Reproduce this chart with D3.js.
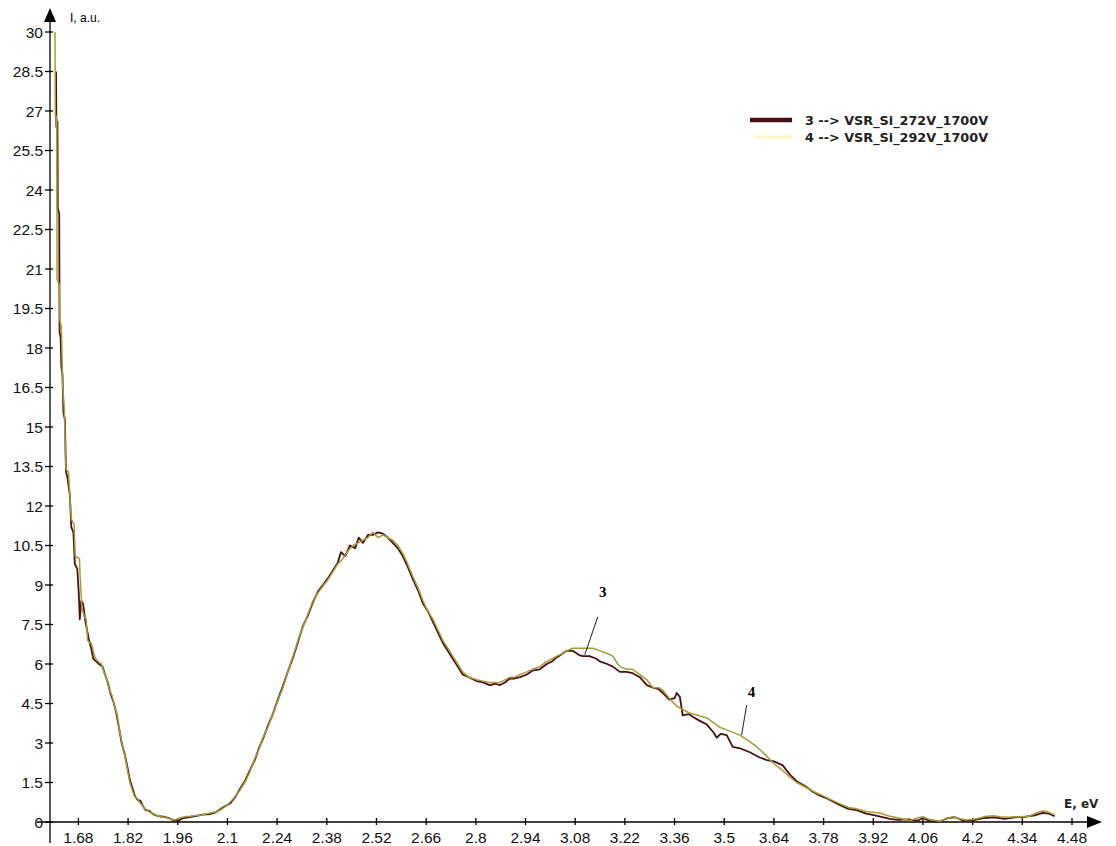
<!DOCTYPE html>
<html>
<head>
<meta charset="utf-8">
<script src="https://cdn.jsdelivr.net/npm/d3@7"></script>
<style>
  body { margin: 0; background: #fff; }
  text { font-family: "Liberation Sans", Arial, sans-serif; }
</style>
</head>
<body>
<div id="chart"></div>
<script>
// spectra: photon energy (eV) vs intensity (a.u.)
const e3 = [1.617,1.618,1.621,1.622,1.626,1.627,1.630,1.632,1.635,1.638,1.642,1.645,1.649,1.656,1.660,1.666,1.670,1.677,1.681,1.684,1.688,1.693,1.700,1.710,1.716,1.722,1.730,1.738,
  1.748,1.755,1.763,1.770,1.778,1.786,1.794,1.802,1.810,1.818,1.825,1.832,1.839,1.846,1.855,1.862,1.870,1.880,1.890,1.905,1.920,1.935,1.950,1.962,1.975,1.990,2.010,2.030,2.050,2.065,2.080,2.093,2.107,2.121,2.135,2.149,2.163,2.177,2.190,2.200,2.214,2.228,2.242,2.256,2.270,2.285,2.299,2.313,2.327,2.341,2.355,2.369,2.383,2.397,2.411,2.420,2.432,2.445,2.460,2.470,2.482,2.496,2.510,2.524,2.538,2.552,2.566,2.580,2.594,2.608,2.623,2.637,2.651,2.665,2.679,2.693,2.707,2.721,2.735,2.749,2.763,2.780,2.803,2.820,2.839,2.855,2.868,2.882,2.896,2.910,2.925,2.944,2.960,2.980,3.000,3.015,3.028,3.045,3.056,3.073,3.090,3.101,3.120,3.140,3.149,3.170,3.186,3.206,3.225,3.242,3.262,3.282,3.299,3.315,3.327,3.345,3.360,3.366,3.375,3.383,3.400,3.411,3.430,3.451,3.470,3.479,3.490,3.507,3.524,3.544,3.572,3.600,3.620,3.640,3.665,3.685,3.704,3.730,3.749,3.770,3.789,3.810,3.825,3.850,3.873,3.900,3.918,3.940,3.966,3.990,4.020,4.045,4.060,4.080,4.107,4.130,4.150,4.175,4.200,4.230,4.260,4.290,4.320,4.350,4.375,4.397,4.415,4.431];
const i3 = [28.5,26.4,26.6,23.3,23.1,18.6,18.4,17.3,17.0,15.5,15.3,13.3,13.1,12.4,11.2,11.0,9.8,9.6,8.7,7.7,8.4,8.3,7.6,6.9,6.6,6.2,6.1,6.0,
  5.9,5.6,5.3,4.9,4.6,4.2,3.6,3.0,2.6,2.1,1.6,1.3,1.0,0.85,0.8,0.6,0.45,0.42,0.3,0.22,0.2,0.15,0.05,0.05,0.15,0.18,0.22,0.28,0.3,0.36,0.48,0.6,0.7,0.92,1.25,1.55,1.95,2.35,2.85,3.15,3.65,4.1,4.65,5.15,5.7,6.25,6.85,7.45,7.85,8.35,8.75,9.0,9.25,9.55,9.85,10.25,10.1,10.5,10.4,10.8,10.6,10.9,10.9,11.0,10.95,10.8,10.6,10.4,10.1,9.7,9.2,8.8,8.3,8.0,7.6,7.2,6.8,6.5,6.2,5.9,5.6,5.5,5.35,5.3,5.2,5.25,5.2,5.3,5.45,5.45,5.5,5.6,5.75,5.8,6.0,6.1,6.25,6.4,6.5,6.5,6.35,6.3,6.3,6.2,6.1,6.0,5.9,5.7,5.7,5.65,5.5,5.2,5.1,5.05,4.9,4.65,4.7,4.9,4.75,4.05,4.1,4.0,3.85,3.7,3.4,3.2,3.35,3.3,2.85,2.8,2.65,2.45,2.35,2.3,2.15,1.8,1.55,1.35,1.15,1.0,0.9,0.75,0.65,0.5,0.45,0.32,0.27,0.2,0.12,0.08,0.1,0.05,0.15,0.03,0.02,0.15,0.18,0.05,0.06,0.15,0.18,0.12,0.18,0.2,0.25,0.35,0.32,0.22];

const e4 = [1.614,1.615,1.619,1.620,1.626,1.627,1.632,1.636,1.640,1.645,1.652,1.660,1.668,1.671,1.683,1.685,1.690,1.697,1.702,1.706,1.712,1.716,1.720,1.728,1.735,1.745,1.752,1.760,1.768,1.775,1.782,1.789,1.797,1.804,1.811,1.818,1.825,1.832,1.839,1.846,1.852,1.859,1.868,1.878,1.887,1.900,1.912,1.924,1.938,1.952,1.965,1.980,1.995,2.010,2.028,2.045,2.065,2.080,2.093,2.107,2.121,2.135,2.149,2.163,2.177,2.190,2.200,2.214,2.228,2.242,2.256,2.270,2.285,2.299,2.313,2.327,2.341,2.355,2.369,2.383,2.397,2.411,2.425,2.440,2.454,2.468,2.482,2.496,2.510,2.524,2.538,2.552,2.566,2.580,2.594,2.608,2.623,2.637,2.651,2.665,2.679,2.693,2.707,2.721,2.735,2.749,2.763,2.780,2.803,2.820,2.839,2.855,2.868,2.882,2.896,2.910,2.925,2.944,2.960,2.980,3.000,3.015,3.028,3.045,3.056,3.073,3.090,3.110,3.130,3.150,3.170,3.186,3.200,3.206,3.225,3.242,3.262,3.282,3.299,3.315,3.327,3.345,3.366,3.400,3.451,3.487,3.507,3.544,3.572,3.592,3.620,3.637,3.665,3.685,3.704,3.732,3.760,3.777,3.800,3.825,3.850,3.873,3.900,3.938,3.966,3.975,4.000,4.023,4.045,4.059,4.080,4.107,4.125,4.144,4.165,4.183,4.210,4.239,4.260,4.276,4.300,4.332,4.360,4.380,4.397,4.410,4.425,4.431];
const i4 = [30.0,26.8,26.8,20.6,20.4,19.1,18.8,16.5,15.8,13.4,13.3,11.5,11.3,10.1,10.0,9.3,8.1,7.8,7.7,6.9,6.8,6.8,6.6,6.2,6.1,6.0,5.7,5.4,5.0,4.8,4.4,4.1,3.4,2.9,2.5,2.0,1.5,1.2,0.95,0.9,0.75,0.65,0.5,0.4,0.33,0.25,0.2,0.18,0.12,0.08,0.15,0.2,0.22,0.25,0.27,0.32,0.38,0.45,0.57,0.75,0.95,1.2,1.5,1.9,2.4,2.8,3.2,3.6,4.1,4.6,5.1,5.7,6.3,6.9,7.4,7.9,8.4,8.7,8.95,9.2,9.5,9.8,10.0,10.3,10.5,10.6,10.7,10.8,11.0,10.8,10.9,10.8,10.7,10.5,10.2,9.8,9.3,8.9,8.4,8.0,7.7,7.3,6.9,6.6,6.3,6.0,5.7,5.5,5.4,5.35,5.3,5.3,5.3,5.4,5.5,5.5,5.6,5.7,5.8,5.9,6.1,6.2,6.3,6.4,6.5,6.6,6.6,6.6,6.6,6.5,6.4,6.3,6.0,5.9,5.8,5.8,5.6,5.4,5.1,5.1,5.0,4.7,4.4,4.15,3.95,3.6,3.5,3.3,3.05,2.85,2.5,2.25,1.95,1.7,1.5,1.3,1.1,1.0,0.85,0.7,0.55,0.5,0.4,0.34,0.22,0.2,0.12,0.06,0.15,0.2,0.1,0.03,0.12,0.2,0.12,0.08,0.12,0.22,0.24,0.2,0.18,0.2,0.22,0.35,0.42,0.4,0.3,0.28];

const xTicks = [1.68,1.82,1.96,2.1,2.24,2.38,2.52,2.66,2.8,2.94,3.08,3.22,3.36,3.5,3.64,3.78,3.92,4.06,4.2,4.34,4.48];
const yTicks = [0,1.5,3,4.5,6,7.5,9,10.5,12,13.5,15,16.5,18,19.5,21,22.5,24,25.5,27,28.5,30];

const legendLabels = ['3 -->  VSR_Si_272V_1700V', '4 -->  VSR_Si_292V_1700V'];
const curveTags = ['3', '4'];
const tagE = [3.107, 3.549];
const tagI = [6.35, 3.3];

const W = 1116, H = 846;
const COLORS = { s3: '#4e0f0f', s4: '#a49c3c', leg4: '#fbf6c4', axis: '#000' };
const BOLD_FONT = '"DejaVu Sans", Verdana, sans-serif';

const svg = d3.select('#chart').append('svg')
  .attr('width', W)
  .attr('height', H);

const x = d3.scaleLinear().domain([1.6, 4.48]).range([50, 1072]);
const y = d3.scaleLinear().domain([0, 30]).range([822, 32]);

// axes lines with arrows
svg.append('line')
  .attr('x1', x(1.6)).attr('x2', x(1.6))
  .attr('y1', 843).attr('y2', 18)
  .attr('stroke', COLORS.axis).attr('stroke-width', 1.3);
svg.append('path')
  .attr('d', `M${x(1.6)},8 L${x(1.6) - 6},22 L${x(1.6) + 6},22 Z`)
  .attr('fill', COLORS.axis);

svg.append('line')
  .attr('x1', 37).attr('x2', 1095)
  .attr('y1', y(0)).attr('y2', y(0))
  .attr('stroke', COLORS.axis).attr('stroke-width', 1.3);
svg.append('path')
  .attr('d', `M1102,${y(0)} L1087,${y(0) - 6} L1087,${y(0) + 6} Z`)
  .attr('fill', COLORS.axis);

// y ticks
const yAxis = svg.append('g').attr('class', 'y-axis');
yAxis.selectAll('line')
  .data(yTicks)
  .join('line')
  .attr('x1', x(1.6) - 5).attr('x2', x(1.6) + 3)
  .attr('y1', d => y(d)).attr('y2', d => y(d))
  .attr('stroke', COLORS.axis).attr('stroke-width', 1.3);
yAxis.selectAll('text')
  .data(yTicks)
  .join('text')
  .attr('x', x(1.6) - 7)
  .attr('y', d => y(d) + 5.5)
  .attr('text-anchor', 'end')
  .attr('font-size', 15.5)
  .attr('fill', '#111')
  .text(d => d);

// x ticks
const xAxis = svg.append('g').attr('class', 'x-axis');
xAxis.selectAll('line')
  .data(xTicks)
  .join('line')
  .attr('x1', d => x(d)).attr('x2', d => x(d))
  .attr('y1', y(0) - 4).attr('y2', y(0) + 3)
  .attr('stroke', COLORS.axis).attr('stroke-width', 1.3);
xAxis.selectAll('text')
  .data(xTicks)
  .join('text')
  .attr('x', d => x(d))
  .attr('y', 843)
  .attr('text-anchor', 'middle')
  .attr('font-size', 15.5)
  .attr('fill', '#111')
  .text(d => d);

// axis titles
svg.append('text')
  .attr('x', 70).attr('y', 22)
  .attr('font-size', 12)
  .text('I, a.u.');
svg.append('text')
  .attr('x', 1064).attr('y', 808)
  .style('font-family', BOLD_FONT)
  .attr('font-size', 12)
  .attr('font-weight', 'bold')
  .attr('fill', '#222')
  .text('E, eV');

// curves
const line = d3.line()
  .x(d => x(d[0]))
  .y(d => y(d[1]));

svg.append('path')
  .datum(d3.zip(e3, i3))
  .attr('d', line)
  .attr('fill', 'none')
  .attr('stroke', COLORS.s3)
  .attr('stroke-width', 1.8)
  .attr('stroke-linejoin', 'round');

svg.append('path')
  .datum(d3.zip(e4, i4))
  .attr('d', line)
  .attr('fill', 'none')
  .attr('stroke', COLORS.s4)
  .attr('stroke-width', 1.5)
  .attr('stroke-linejoin', 'round');

// curve tags with leader lines
const tagDx = [13, 5], tagDy = [38, 30], tagTextDy = [20, 8];
curveTags.forEach((t, k) => {
  const ax = x(tagE[k]), ay = y(tagI[k]);
  svg.append('line')
    .attr('x1', ax).attr('y1', ay)
    .attr('x2', ax + tagDx[k]).attr('y2', ay - tagDy[k])
    .attr('stroke', '#222').attr('stroke-width', 1);
  svg.append('text')
    .attr('x', ax + tagDx[k] + 5).attr('y', ay - tagDy[k] - tagTextDy[k])
    .attr('text-anchor', 'middle')
    .style('font-family', '"Liberation Serif", "Times New Roman", serif')
    .attr('font-weight', 'bold')
    .attr('font-size', 15)
    .text(t);
});

// legend
const legendColors = [COLORS.s3, COLORS.leg4];
const legendWidths = [4.5, 3];
const legend = svg.append('g').attr('transform', 'translate(750,120)');
legendLabels.forEach((lab, k) => {
  legend.append('line')
    .attr('x1', k === 0 ? 0 : 5).attr('x2', 42)
    .attr('y1', k * 17).attr('y2', k * 17)
    .attr('stroke', legendColors[k])
    .attr('stroke-width', legendWidths[k]);
  legend.append('text')
    .attr('x', 55).attr('y', k * 17 + 4.5)
    .style('font-family', BOLD_FONT)
    .attr('font-size', 12.8)
    .attr('font-weight', 'bold')
    .attr('fill', '#222')
    .text(lab);
});
</script>
</body>
</html>
